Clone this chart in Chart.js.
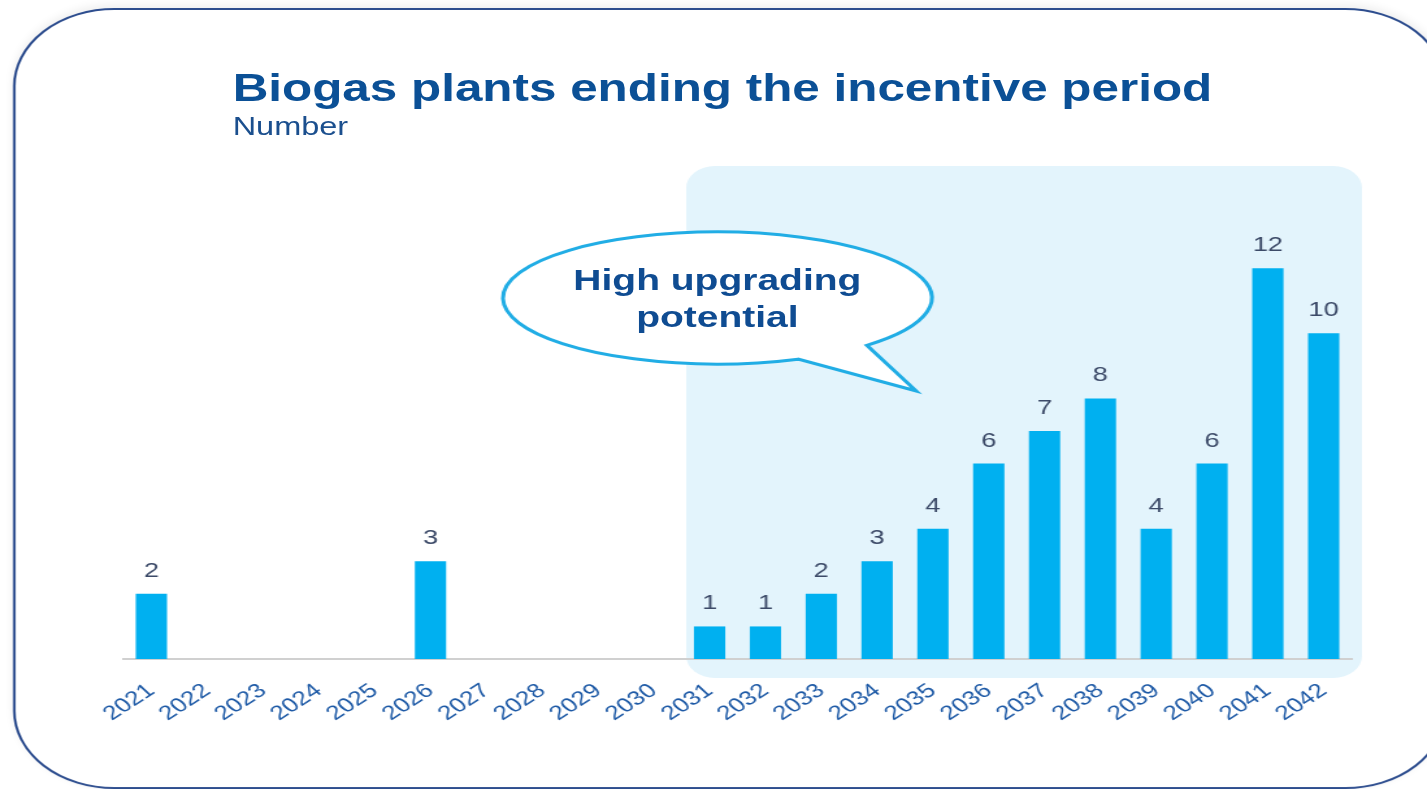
<!DOCTYPE html>
<html>
<head>
<meta charset="utf-8">
<script src="https://cdn.jsdelivr.net/npm/chart.js@4.4.1/dist/chart.umd.min.js"></script>
<style>
html, body { margin:0; padding:0; background:#fff; width:1427px; height:789px; overflow:hidden; }
/* the reference is stretched sideways, so the whole stage is drawn narrow and widened */
#stage { position:absolute; left:0; top:0; width:1098px; height:789px; transform:scaleX(1.2996); transform-origin:0 0;
  font-family:"Liberation Sans", Arial, sans-serif; }
#frame { position:absolute; left:10px; top:8px; width:1103px; height:781px; box-sizing:border-box;
  border:2.5px solid #2D4D8E; border-radius:78px; box-shadow:0 -3px 8px rgba(0,0,0,0.07); }
#title { position:absolute; left:179px; top:69px; font-size:38px; line-height:38px; font-weight:bold; color:#0B5096; white-space:nowrap; }
#sub { position:absolute; left:179px; top:114px; font-size:25px; line-height:25px; color:#1B4F8E; white-space:nowrap; }
#wrap { position:absolute; left:0; top:0; width:1098px; height:789px; }
#bubbleText { position:absolute; left:386px; top:261px; width:332px; text-align:center; font-size:30px; line-height:37px;
  font-weight:bold; color:#0F4C92; }
</style>
</head>
<body>
<div id="stage">
  <div id="frame"></div>
  <div id="wrap"><canvas id="bars"></canvas></div>
  <div id="title">Biogas plants ending the incentive period</div>
  <div id="sub">Number</div>
  <div id="bubbleText">High upgrading<br>potential</div>
</div>
<script>
const years = ['2021','2022','2023','2024','2025','2026','2027','2028','2029','2030','2031',
               '2032','2033','2034','2035','2036','2037','2038','2039','2040','2041','2042'];
const plants = [2, 0, 0, 0, 0, 3, 0, 0, 0, 0, 1, 1, 2, 3, 4, 6, 7, 8, 4, 6, 12, 10];
const panelFrom = 10; // highlighted years start at 2031

const backdrop = {
  id: 'backdrop',
  beforeDraw(chart) {
    const {ctx, chartArea, scales: {x}} = chart;
    const cw = x.getPixelForValue(1) - x.getPixelForValue(0);
    const left = x.getPixelForValue(panelFrom) - cw * 0.42;
    const right = chartArea.right + 8;
    ctx.save();
    ctx.fillStyle = '#E3F4FC';
    ctx.beginPath();
    ctx.roundRect(left, 166, right - left, chartArea.bottom + 19 - 166, 22);
    ctx.fill();

    // speech bubble
    const cx = 552, cy = 298, rx = 165, ry = 66;
    const a1 = 67.9 * Math.PI / 180, a2 = 45.8 * Math.PI / 180;
    ctx.beginPath();
    ctx.ellipse(cx, cy, rx, ry, 0, a1, a2 + Math.PI * 2);
    ctx.lineTo(705, 391);
    ctx.closePath();
    ctx.fillStyle = '#fff';
    ctx.fill();
    ctx.lineWidth = 3;
    ctx.strokeStyle = '#21ADE5';
    ctx.lineJoin = 'miter';
    ctx.stroke();
    ctx.restore();
  }
};

const valueLabels = {
  id: 'valueLabels',
  afterDatasetsDraw(chart) {
    const {ctx} = chart;
    const meta = chart.getDatasetMeta(0);
    ctx.save();
    ctx.font = '21px "Liberation Sans", Arial, sans-serif';
    ctx.fillStyle = '#3C4A68';
    ctx.textAlign = 'center';
    ctx.textBaseline = 'alphabetic';
    meta.data.forEach((bar, i) => {
      if (!plants[i]) return;
      ctx.fillText(plants[i], bar.x, bar.y - 17);
    });
    ctx.restore();
  }
};

const ctx = document.getElementById('bars').getContext('2d');

new Chart(ctx, {
  type: 'bar',
  data: {
    labels: years,
    datasets: [{
      label: 'Number',
      data: plants,
      backgroundColor: '#00B0F0',
      borderWidth: 0,
      categoryPercentage: 1,
      barPercentage: 0.56
    }]
  },
  options: {
    responsive: true,
    maintainAspectRatio: false,
    animation: false,
    layout: { padding: { left: 95, right: 58, top: 203, bottom: 50 } },
    plugins: { legend: { display: false }, tooltip: { enabled: false } },
    scales: {
      x: {
        grid: { display: false, drawTicks: false },
        border: { display: true, color: '#D0D0D0', width: 2 },
        ticks: {
          color: '#1E5AA6',
          font: { family: '"Liberation Sans", Arial, sans-serif', size: 20 },
          minRotation: 40,
          maxRotation: 40,
          autoSkip: false,
          padding: 20
        },
        afterFit(s) { s.height = 80; s.paddingLeft = 0; s.paddingRight = 0; }
      },
      y: {
        display: false,
        min: 0,
        max: 14
      }
    }
  },
  plugins: [backdrop, valueLabels]
});
</script>
</body>
</html>
